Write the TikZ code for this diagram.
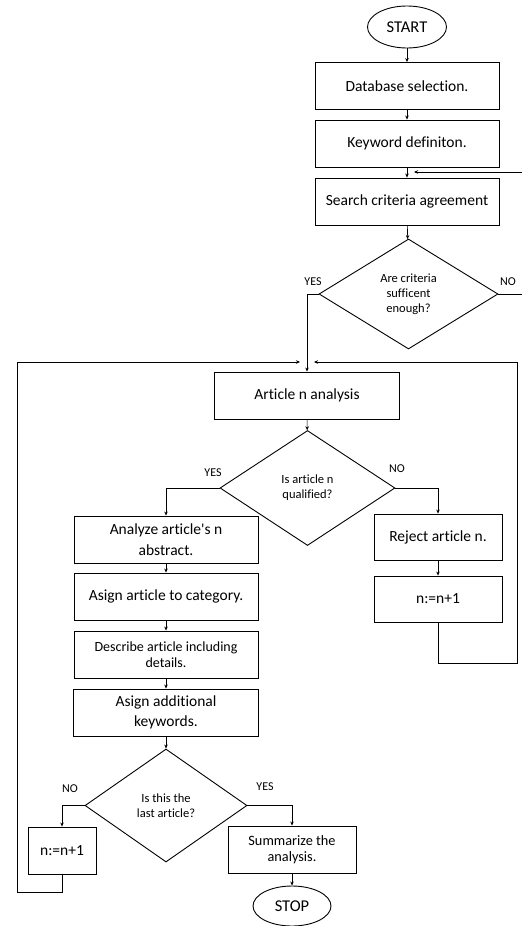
\documentclass[tikz,border=0pt]{standalone}
\usepackage{fontspec}
\setmainfont{Carlito}[Ligatures=NoCommon]
\usetikzlibrary{shapes.geometric,arrows.meta}
\tikzset{
  box/.style={draw,line width=0.9pt,rectangle,minimum width=184pt,minimum height=47pt,align=center,inner sep=2pt,font=\fontsize{15.5}{20.5}\selectfont},
  sbox/.style={box,minimum width=128pt},
  term/.style={draw,line width=0.9pt,ellipse,minimum width=79pt,minimum height=42pt,inner sep=0pt,font=\fontsize{16.5}{18}\selectfont},
  quest/.style={draw,line width=0.9pt,diamond,inner sep=0pt,align=center,font=\fontsize{12.5}{15}\selectfont},
  arr/.style={draw,line width=0.6pt,-{Stealth[length=4pt,width=3.5pt]}},
  lbl/.style={font=\fontsize{12}{14}\selectfont,inner sep=0pt}
}
\begin{document}
\begin{tikzpicture}[x=1pt,y=-1pt]
  \useasboundingbox (0,0) rectangle (522,926);
  % main column
  \node[term] (start) at (407,27) {START};
  \node[box] (db) at (407,86) {Database selection.};
  \node[box] (kw) at (407,143.5) {Keyword definiton.};
  \node[box] (search) at (407,201.5) {Search criteria agreement};
  \node[quest,minimum width=179pt,minimum height=110pt] (q1) at (408.5,294) {Are criteria\\sufficent\\enough?};
  \node[box,minimum width=185pt] (art) at (307,395.5) {Article n analysis};
  \node[quest,minimum width=175pt,minimum height=115pt] (q2) at (307.5,488) {Is article n\\qualified?};
  % left branch
  \node[box] (ana) at (166,539.5) {Analyze article\textquotesingle s n\\abstract.};
  \node[box] (cat) at (166,596.5) {Asign article to category.};
  \node[box,font=\fontsize{14}{16.5}\selectfont] (desc) at (166,654.5) {Describe article including\\details.};
  \node[box,minimum width=185pt] (kwd) at (166,712.5) {Asign additional\\keywords.};
  \node[quest,minimum width=162pt,minimum height=113pt] (q3) at (166,805.5) {Is this the\\last article?};
  \node[box,minimum width=68pt] (nl) at (62,850.5) {n:=n+1};
  \node[sbox,font=\fontsize{14.3}{16.5}\selectfont] (sum) at (292,849.5) {Summarize the\\analysis.};
  \node[term,minimum width=78pt,minimum height=40pt] (stop) at (292,906) {STOP};
  % right branch
  \node[sbox,minimum height=46pt] (rej) at (438,537) {Reject article n.};
  \node[sbox,minimum height=46pt] (nr) at (438,599) {n:=n+1};

  % loose ends and corners
  \coordinate (back) at (522,172);
  \coordinate (backend) at (414,172);
  \coordinate (noout) at (522,294);
  \coordinate (lb) at (17,892);
  \coordinate (lt) at (17,362);
  \coordinate (lin) at (300,362);
  \coordinate (rb) at (517,663);
  \coordinate (rt) at (517,362);
  \coordinate (rin) at (314,362);

  \foreach \a/\b in {start/db,db/kw,kw/search,search/q1,art/q2,ana/cat,cat/desc,desc/kwd,kwd/q3,rej/nr,sum/stop}
    \draw[arr] (\a) -- (\b);
  \draw[arr] (q1.west) -| (art.north);
  \draw[arr] (q2.west) -| (ana.north);
  \draw[arr] (q2.east) -| (rej.north);
  \draw[arr] (q3.west) -| (nl.north);
  \draw[arr] (q3.east) -| (sum.north);
  \draw[arr] (back) -- (backend);
  \draw[line width=0.6pt] (q1.east) -- (noout);
  \draw[arr] (nl.south) |- (lb) -- (lt) -- (lin);
  \draw[arr] (nr.south) |- (rb) -- (rt) -- (rin);

  % branch labels
  \foreach \i/\t/\x/\y in {1/YES/313/282,2/NO/508/282,3/YES/213/473,4/NO/397/469,5/NO/70/789,6/YES/265/787}
    \node[lbl] (lab\i) at (\x,\y) {\t};
\end{tikzpicture}
\end{document}
